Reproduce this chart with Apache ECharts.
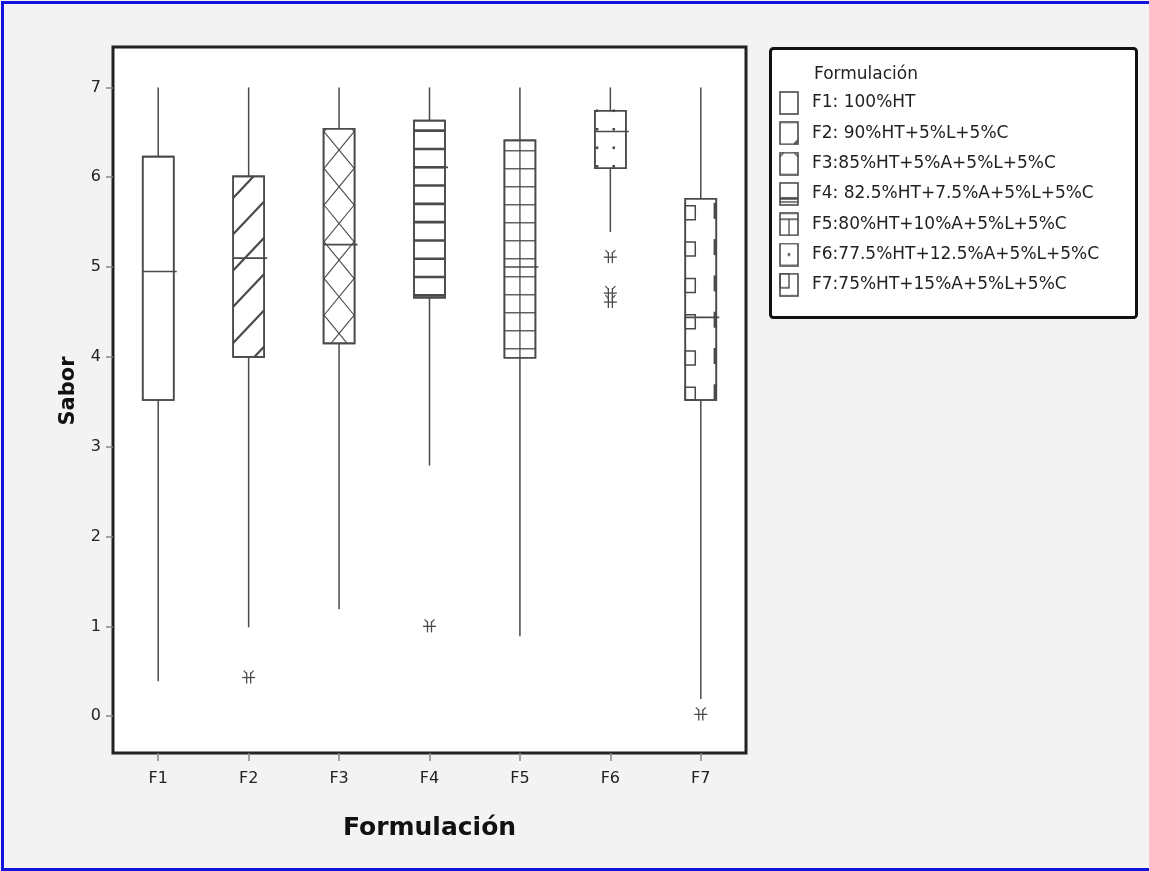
<!DOCTYPE html>
<html><head><meta charset="utf-8">
<script src="https://cdn.jsdelivr.net/npm/echarts@6/dist/echarts.min.js"></script>
<style>
html,body{margin:0;padding:0;background:#f3f3f3;}
#chart{position:absolute;left:0;top:0;width:1149px;height:871px;}
#frame{position:absolute;left:1px;top:1px;width:1148px;height:870px;box-sizing:border-box;border-left:3px solid #1414dc;border-top:3px solid #1414dc;border-bottom:3px solid #1414dc;pointer-events:none;}
</style></head><body>
<div id="chart"></div><div id="frame"></div>
<script>
// ---- data ----
const categories = ['F1','F2','F3','F4','F5','F6','F7'];
const legendLabels = ['F1: 100%HT','F2: 90%HT+5%L+5%C','F3:85%HT+5%A+5%L+5%C','F4: 82.5%HT+7.5%A+5%L+5%C','F5:80%HT+10%A+5%L+5%C','F6:77.5%HT+12.5%A+5%L+5%C','F7:75%HT+15%A+5%L+5%C'];
const whiskerLow  = [0.39, 0.99, 1.19, 2.79, 0.89, 5.39, 0.19];
const q1          = [3.52, 4.00, 4.15, 4.66, 3.99, 6.10, 3.52];
const median      = [4.95, 5.10, 5.25, 6.11, 5.00, 6.51, 4.44];
const q3          = [6.23, 6.01, 6.54, 6.63, 6.41, 6.74, 5.76];
const whiskerHigh = [7, 7, 7, 7, 7, 7, 7];
const outlierCat  = ['F2','F4','F6','F6','F6','F7'];
const outlierVal  = [0.43, 1.00, 5.11, 4.71, 4.61, 0.02];
const yTicks      = [0, 1, 2, 3, 4, 5, 6, 7];
const legendTitle = 'Formulación';
const xName = 'Formulación';
const yName = 'Sabor';

// ---- drawing helpers ----
const LINE = '#4a4a4a';
function seg(x1,y1,x2,y2,w){ return {type:'line', shape:{x1:x1,y1:y1,x2:x2,y2:y2}, style:{stroke:LINE, lineWidth:w||1.5}, silent:true}; }
function clip(x1,y1,x2,y2,L,T,R,B){
  let t0=0,t1=1; const dx=x2-x1, dy=y2-y1;
  const p=[-dx,dx,-dy,dy], q=[x1-L,R-x1,y1-T,B-y1];
  for(let i=0;i<4;i++){
    if(p[i]===0){ if(q[i]<0) return null; }
    else { const r=q[i]/p[i];
      if(p[i]<0){ if(r>t1) return null; if(r>t0) t0=r; }
      else { if(r<t0) return null; if(r<t1) t1=r; } }
  }
  return [x1+t0*dx,y1+t0*dy,x1+t1*dx,y1+t1*dy];
}
function pattern(i,L,T,R,B,xc){
  const out=[]; const W=R-L;
  if(i===1){
    const s=36.25, m=1.05;
    for(let k=-2;k<60;k++){
      const yl=B-14-k*s; if(yl<T) break;
      const c=clip(L-40,yl+40*m,R+40,yl-(W+40)*m,L,T,R,B);
      if(c) out.push(seg(c[0],c[1],c[2],c[3],2.2));
    }
  } else if(i===2){
    const s=36.7, m=1.22;
    for(let k=-3;k<60;k++){
      const yk=T+21.3+k*s; if(yk>B+60) break;
      let c=clip(xc-60,yk-60*m,xc+60,yk+60*m,L,T,R,B); if(c) out.push(seg(c[0],c[1],c[2],c[3],1.1));
      c=clip(xc-60,yk+60*m,xc+60,yk-60*m,L,T,R,B); if(c) out.push(seg(c[0],c[1],c[2],c[3],1.1));
    }
  } else if(i===3){
    for(let y=T+10;y<B-1;y+=18.3) out.push(seg(L,y,R,y,2.6));
  } else if(i===4){
    out.push(seg(xc,T,xc,B,1.3));
    for(let y=B-9;y>T+1;y-=18) out.push(seg(L,y,R,y,1.3));
  } else if(i===5){
    for(let y=T;y<=B+0.5;y+=18.5){
      for(let x=L+2.2;x<R-1;x+=16.7){
        out.push({type:'rect', shape:{x:x-1.3,y:y-1.3,width:2.6,height:2.6}, style:{fill:LINE}, silent:true});
      }
    }
  } else if(i===6){
    for(let y0=T+7;y0<B;y0+=36.3){
      out.push({type:'rect', shape:{x:L,y:y0,width:10,height:Math.min(14,B-y0)}, style:{fill:'none',stroke:LINE,lineWidth:1.5}, silent:true});
      out.push(seg(R-1.3,y0-3,R-1.3,Math.min(y0+13,B),2.8));
    }
  }
  return out;
}
function makeBoxRender(idx){
  return function(params, api){
    const ci=api.value(0);
    const xc=api.coord([ci,api.value(3)])[0];
    const yLow=api.coord([ci,api.value(1)])[1];
    const yQ1=api.coord([ci,api.value(2)])[1];
    const yMed=api.coord([ci,api.value(3)])[1];
    const yQ3=api.coord([ci,api.value(4)])[1];
    const yHigh=api.coord([ci,api.value(5)])[1];
    const bw=api.size([1,0])[0]*0.343;
    const L=xc-bw/2, R=xc+bw/2, T=yQ3, B=yQ1;
    const ch=[];
    ch.push(seg(xc,yQ3,xc,yHigh,1.5));
    ch.push(seg(xc,yQ1,xc,yLow,1.5));
    ch.push({type:'rect', shape:{x:L,y:T,width:bw,height:B-T}, style:{fill:'#fff',stroke:LINE,lineWidth:1.6}, silent:true});
    pattern(idx,L,T,R,B,xc).forEach(e=>ch.push(e));
    ch.push(seg(L,yMed,R+3,yMed,1.6));
    ch.push({type:'rect', shape:{x:L,y:T,width:bw,height:B-T}, style:{fill:'none',stroke:LINE,lineWidth:1.6}, silent:true});
    return {type:'group', children:ch};
  };
}
function outlierRender(params, api){
  const p=api.coord([api.value(0),api.value(1)]);
  const x=p[0], y=p[1];
  return {type:'group', children:[
    seg(x-6.5,y,x+6.5,y,1.3),
    seg(x-2,y-5,x-2,y+6,1.3),
    seg(x+2,y-5,x+2,y+6,1.3),
    seg(x-5,y-7,x-2,y-4,1.2),
    seg(x+5,y-7,x+2,y-4,1.2)
  ]};
}
function makeIcon(i){
  const c=document.createElement('canvas'); c.width=20; c.height=24;
  const g=c.getContext('2d');
  g.strokeStyle=LINE; g.fillStyle=LINE; g.lineWidth=1.6;
  g.fillStyle='#fff'; g.fillRect(1,1,18,22); g.fillStyle=LINE;
  g.strokeRect(1,1,18,22);
  g.beginPath();
  if(i===1){ g.lineWidth=2; g.moveTo(15,23); g.lineTo(19,19); }
  else if(i===2){ g.lineWidth=1.1; g.moveTo(1,5); g.lineTo(5,1); g.moveTo(15,1); g.lineTo(19,5); }
  else if(i===3){ g.stroke(); g.beginPath(); g.lineWidth=2.6; g.moveTo(1,16.5); g.lineTo(19,16.5); g.stroke(); g.beginPath(); g.lineWidth=1.4; g.moveTo(1,20); g.lineTo(19,20); }
  else if(i===4){ g.lineWidth=1.3; g.moveTo(10,7); g.lineTo(10,23); g.moveTo(1,7); g.lineTo(19,7); }
  else if(i===5){ g.fillRect(8.7,10.7,2.6,2.6); }
  else if(i===6){ g.lineWidth=1.4; g.rect(1,1,9,14); }
  g.stroke();
  return 'image://'+c.toDataURL();
}

// ---- chart ----
const chart=echarts.init(document.getElementById('chart'));
const series=legendLabels.map((name,i)=>({
  type:'custom', name:name,
  renderItem: makeBoxRender(i),
  encode:{x:0,y:[1,2,3,4,5]},
  data:[[i, whiskerLow[i], q1[i], median[i], q3[i], whiskerHigh[i]]],
  itemStyle:{color:LINE},
  z:3
}));
series.push({
  type:'custom', name:'outliers',
  renderItem: outlierRender,
  encode:{x:0,y:1},
  data: outlierCat.map((c,k)=>[categories.indexOf(c), outlierVal[k]]),
  z:4
});
const option={
  backgroundColor:'#f3f3f3',
  animation:false,
  title:{text:legendTitle, left:814, top:66, padding:0,
    textStyle:{fontFamily:'DejaVu Sans', fontSize:17, fontWeight:'normal', color:'#222'}},
  graphic:[{type:'rect', shape:{x:770.5,y:48.5,width:366,height:269,r:3}, style:{fill:'#fff',stroke:'#111',lineWidth:3}, z:0, silent:true}],
  legend:{orient:'vertical', left:779, top:91, padding:0, itemWidth:20, itemHeight:24, itemGap:6.3,
    selectedMode:false,
    textStyle:{fontFamily:'DejaVu Sans', fontSize:17, color:'#222', padding:[12,0,0,8]},
    data: legendLabels.map((n,i)=>({name:n, icon:makeIcon(i)})), z:5},
  grid:{left:113, top:47, right:403, bottom:118, show:true, backgroundColor:'#fff', borderColor:'#222', borderWidth:3},
  xAxis:{type:'category', data:categories, boundaryGap:true,
    axisLine:{show:false, onZero:false},
    axisTick:{show:true, alignWithLabel:true, length:8, lineStyle:{color:'#888', width:1.5}},
    axisLabel:{color:'#222', fontFamily:'DejaVu Sans', fontSize:16, margin:18},
    name:xName, nameLocation:'middle', nameGap:63,
    nameTextStyle:{fontFamily:'DejaVu Sans', fontWeight:'bold', fontSize:25, color:'#111'}},
  yAxis:{type:'value', min:-0.41, max:7.45,
    splitLine:{show:false}, axisLine:{show:false},
    axisTick:{show:true, length:7, customValues:yTicks, lineStyle:{color:'#888', width:1.5}},
    axisLabel:{color:'#222', fontFamily:'DejaVu Sans', fontSize:16, margin:12, customValues:yTicks},
    name:yName, nameLocation:'middle', nameGap:34,
    nameTextStyle:{fontFamily:'DejaVu Sans', fontWeight:'bold', fontSize:21, color:'#111', padding:[0,0,0,18]}},
  series:series
};
chart.setOption(option);
</script>
</body></html>
